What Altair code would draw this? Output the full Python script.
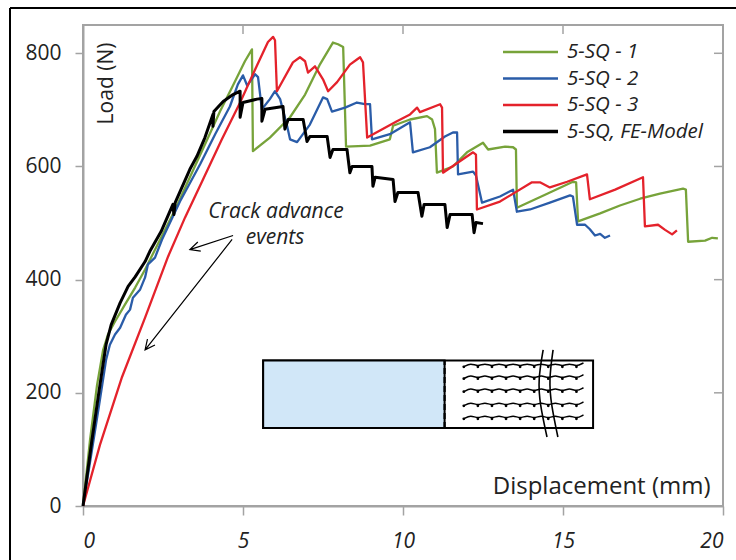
import altair as alt
import pandas as pd
import numpy as np

# ---------------- data ----------------
series_names = ["5-SQ - 1", "5-SQ - 2", "5-SQ - 3", "5-SQ, FE-Model"]
series_colors = ["#77a33a", "#2a5ca8", "#e4222b", "#000000"]
series_widths = [2.3, 2.3, 2.3, 3.0]

sq1_x = [0, 0.22, 0.44, 0.63, 0.78, 1.0, 1.31, 1.63, 1.94, 2.41, 2.88, 3.34, 3.81, 4.28, 4.66, 5.06, 5.28,
         5.31, 5.84, 6.47, 6.94, 7.41, 7.81, 7.97, 8.13, 8.22, 8.97, 9.59, 9.69, 10.22, 10.75, 10.91, 11.0,
         11.06, 11.56, 12.0, 12.5, 12.66, 13.19, 13.44, 13.53, 13.56, 14.44, 15.31, 15.41, 15.47, 16.16,
         16.78, 17.41, 18.03, 18.75, 18.84, 18.91, 19.44, 19.66, 19.84]
sq1_y = [0, 117, 214, 276, 303, 326, 356, 386, 418, 471, 524, 581, 639, 697, 740, 786, 807,
         627, 651, 687, 727, 781, 819, 816, 811, 635, 637, 648, 672, 683, 689, 683, 666,
         589, 600, 625, 642, 630, 635, 634, 630, 527, 550, 573, 572, 503, 517,
         531, 543, 552, 561, 559, 467, 469, 474, 473]

sq2_x = [0, 0.28, 0.53, 0.72, 0.84, 1.0, 1.16, 1.34, 1.47, 1.56, 1.78, 1.94, 2.03, 2.25, 2.47, 3.03, 3.66,
         4.13, 4.59, 4.84, 5.0, 5.13, 5.38, 5.47, 5.59, 5.84, 6.0, 6.16, 6.38, 6.47, 6.69, 7.09, 7.5, 7.63,
         7.78, 8.19, 8.56, 8.81, 8.97, 9.03, 9.59, 10.22, 10.31, 10.84, 11.31, 11.56, 11.69, 11.72, 12.19,
         12.28, 12.47, 13.03, 13.44, 13.56, 13.97, 14.59, 15.22, 15.31, 15.44, 15.69, 15.84, 16.0, 16.16,
         16.31, 16.47]
sq2_y = [0, 99, 188, 258, 285, 303, 315, 338, 347, 368, 382, 404, 427, 439, 471, 538, 604,
         657, 706, 745, 761, 743, 763, 758, 701, 719, 733, 719, 671, 648, 643, 674, 722, 719,
         697, 704, 713, 710, 710, 648, 657, 678, 625, 634, 653, 660, 660, 586, 591,
         584, 536, 547, 559, 520, 524, 536, 549, 547, 497, 497, 489, 478, 481,
         474, 478]

sq3_x = [0, 0.53, 1.22, 1.94, 2.66, 3.19, 3.75, 4.34, 4.91, 5.44, 5.78, 5.94, 6.0, 6.06, 6.56, 6.78, 6.94,
         7.03, 7.25, 7.5, 7.66, 7.94, 8.34, 8.56, 8.66, 8.75, 8.88, 9.81, 10.22, 10.44, 10.53, 11.16, 11.22,
         11.25, 12.19, 12.28, 12.31, 13.03, 14.03, 14.28, 14.59, 15.13, 15.75, 15.84, 16.63, 17.5, 17.56,
         17.97, 18.19, 18.41, 18.56]
sq3_y = [0, 108, 228, 333, 441, 510, 577, 648, 713, 779, 820, 829, 823, 733, 784, 793, 786,
         766, 777, 754, 733, 749, 780, 789, 793, 784, 651, 680, 692, 704, 696, 710, 704,
         589, 625, 621, 524, 538, 572, 572, 563, 573, 586, 542, 559, 581, 494,
         497, 488, 480, 487]

fe_x = [0, 0.28, 0.53, 0.72, 0.88, 1.16, 1.41, 1.63, 1.94, 2.09, 2.44, 2.81, 2.84, 2.88, 3.34, 3.56, 3.81,
        4.06, 4.06, 4.09, 4.38, 4.69, 4.91, 4.91, 5.0, 5.44, 5.59, 5.59, 5.69, 6.25, 6.31, 6.41, 6.88, 7.0,
        7.09, 7.63, 7.72, 7.81, 8.25, 8.34, 8.41, 9.03, 9.06, 9.13, 9.69, 9.75, 9.84, 10.47, 10.59, 10.66,
        11.31, 11.38, 11.47, 12.16, 12.22, 12.28, 12.5]
fe_y = [0, 117, 214, 285, 320, 359, 388, 405, 432, 450, 485, 533, 515, 536, 595, 618, 651,
        692, 671, 697, 715, 727, 733, 687, 713, 719, 720, 680, 701, 706, 666, 683, 683, 644,
        653, 653, 616, 630, 630, 589, 600, 600, 565, 581, 577, 538, 554, 554, 512, 533,
        533, 492, 515, 515, 483, 501, 499]

series_x = [sq1_x, sq2_x, sq3_x, fe_x]
series_y = [sq1_y, sq2_y, sq3_y, fe_y]

x_ticks = [0, 5, 10, 15, 20]
y_ticks = [0, 200, 400, 600, 800]

annot_lines = ["Crack advance", "events"]

# ---------------- styling ----------------
FONT = "Open Sans"
GRAY = "#a3a3a3"
TXT = "#222222"
W, H = 640, 481
XMAX, YMAX = 20, 850
PX_X = W / XMAX
PX_Y = H / YMAX

xs = alt.Scale(domain=[0, XMAX], nice=False, zero=False)
ys = alt.Scale(domain=[0, YMAX], nice=False, zero=False)

x_axis = alt.Axis(values=x_ticks, grid=False, tickSize=9, tickWidth=1.5, domainColor=GRAY, tickColor=GRAY,
                  domainWidth=2, labelFont=FONT, labelFontSize=21, labelFontStyle="italic", labelColor=TXT,
                  labelPadding=15, title="Displacement (mm)", titleFont=FONT, titleFontSize=24,
                  titleFontWeight="normal", titleColor=TXT, titleX=627, titleY=-20, titleAlign="right",
                  titleBaseline="middle")
y_axis = alt.Axis(values=y_ticks, grid=False, tickSize=8, tickWidth=1.5, domainColor=GRAY, tickColor=GRAY,
                  domainWidth=2, labelFont=FONT, labelFontSize=21, labelColor=TXT, labelPadding=14,
                  title="Load (N)", titleFont=FONT, titleFontSize=21, titleFontWeight="normal",
                  titleColor=TXT, titleX=23, titleY=58, titleAlign="center", titleBaseline="middle",
                  titleAngle=-90)

X = alt.X("x:Q", scale=xs, axis=x_axis)
Y = alt.Y("y:Q", scale=ys, axis=y_axis)

one = pd.DataFrame({"a": [0]})

layers = []

# outer black frame of the figure
layers.append(alt.Chart(one).mark_rule(color="black", strokeWidth=2).encode(
    x=alt.value(-73), y=alt.value(-17), y2=alt.value(H + 60)))
layers.append(alt.Chart(one).mark_rule(color="black", strokeWidth=2).encode(
    x=alt.value(-73), x2=alt.value(W + 20), y=alt.value(-17)))

# inset specimen diagram
box = pd.DataFrame({"x": [5.63], "x2": [15.94], "y": [138], "y2": [257]})
blue = pd.DataFrame({"x": [5.63], "x2": [11.3], "y": [138], "y2": [257]})
layers.append(alt.Chart(box).mark_rect(fill="white", stroke="black", strokeWidth=2).encode(
    x=X, x2="x2:Q", y=Y, y2="y2:Q"))
layers.append(alt.Chart(blue).mark_rect(fill="#d1e7f8", stroke="black", strokeWidth=2).encode(
    x=X, x2="x2:Q", y=Y, y2="y2:Q"))
dash = pd.DataFrame({"x": [11.3], "y": [138], "y2": [257]})
layers.append(alt.Chart(dash).mark_rule(color="black", strokeWidth=2.2, strokeDash=[6, 3]).encode(
    x=X, y=Y, y2="y2:Q"))

wave_rows = [246, 225, 202, 177, 154]
wave_x = np.arange(11.9, 15.86, 0.22)
wrows = []
dots = []
for r, yy in enumerate(wave_rows):
    for i, xx in enumerate(wave_x):
        up = (i % 2 == 1)
        wrows.append({"row": r, "i": i, "x": float(xx), "y": yy + (7 if up else 0)})
        if not up:
            dots.append({"x": float(xx), "y": yy})
wdf = pd.DataFrame(wrows)
layers.append(alt.Chart(wdf).mark_line(color="black", strokeWidth=1.5, interpolate="basis").encode(
    x=X, y=Y, detail="row:N", order="i:Q"))
layers.append(alt.Chart(pd.DataFrame(dots)).mark_circle(color="black", size=8, opacity=1).encode(x=X, y=Y))

brk = pd.DataFrame({
    "c": [0, 0, 0, 0, 1, 1, 1, 1],
    "i": [0, 1, 2, 3, 0, 1, 2, 3],
    "x": [14.38, 14.22, 14.28, 14.5, 14.69, 14.56, 14.63, 14.84],
    "y": [276, 223, 179, 122, 276, 223, 179, 122]})
layers.append(alt.Chart(brk).mark_line(color="black", strokeWidth=1.6, interpolate="basis").encode(
    x=X, y=Y, detail="c:N", order="i:Q"))

# data curves
for name, xv, yv, col, sw in zip(series_names, series_x, series_y, series_colors, series_widths):
    df = pd.DataFrame({"x": xv, "y": yv, "i": range(len(xv)), "series": name})
    layers.append(alt.Chart(df).mark_line(color=col, strokeWidth=sw, strokeJoin="round").encode(
        x=X, y=Y, order="i:Q"))

# mirror ticks on top and right
tt = pd.DataFrame({"x": x_ticks[1:-1]})
layers.append(alt.Chart(tt).mark_rule(color=GRAY, strokeWidth=1.5).encode(
    x=X, y=alt.value(0), y2=alt.value(9)))
rt = pd.DataFrame({"y": y_ticks[1:]})
layers.append(alt.Chart(rt).mark_rule(color=GRAY, strokeWidth=1.5).encode(
    y=Y, x=alt.value(W), x2=alt.value(W - 9)))

# annotation
ann = pd.DataFrame({"x": [6.03, 6.0], "y": [520, 474], "t": annot_lines})
layers.append(alt.Chart(ann).mark_text(font=FONT, fontSize=21, fontStyle="italic", color=TXT).encode(
    x=X, y=Y, text="t:N"))

arrows = [((4.69, 478), (3.34, 453)), ((4.66, 471), (1.94, 276))]
arows = []
for k, ((x0, y0), (x1, y1)) in enumerate(arrows):
    dx, dy = (x1 - x0) * PX_X, (y1 - y0) * PX_Y
    L = np.hypot(dx, dy)
    bx, by = -dx / L, -dy / L
    pts = []
    for ang in (0.45, -0.45):
        c, s = np.cos(ang), np.sin(ang)
        wx, wy = (bx * c - by * s) * 11, (bx * s + by * c) * 11
        pts.append((x1 + wx / PX_X, y1 + wy / PX_Y))
    seq = [(x0, y0), (x1, y1), pts[0], (x1, y1), pts[1]]
    for i, (px, py) in enumerate(seq):
        arows.append({"k": k, "i": i, "x": px, "y": py})
layers.append(alt.Chart(pd.DataFrame(arows)).mark_line(color="black", strokeWidth=1.2).encode(
    x=X, y=Y, detail="k:N", order="i:Q"))

# legend (drawn by hand)
leg_y = [27, 53.5, 80, 106.5]
for name, col, sw, ly in zip(series_names, series_colors, series_widths, leg_y):
    layers.append(alt.Chart(one).mark_rule(color=col, strokeWidth=sw + 0.4).encode(
        x=alt.value(420), x2=alt.value(475), y=alt.value(ly)))
    layers.append(alt.Chart(one).mark_text(text=name, font=FONT, fontSize=20.5, fontStyle="italic",
                                           color=TXT, align="left", baseline="middle").encode(
        x=alt.value(484), y=alt.value(ly)))

chart = alt.layer(*layers).properties(width=W, height=H).configure_view(
    stroke=GRAY, strokeWidth=2).properties(
    autosize=alt.AutoSizeParams(type="none"),
    padding={"left": 83, "top": 25, "right": 13, "bottom": 54},
    background="white")

chart.save("out.html", embed_options={"renderer": "svg", "actions": False})
